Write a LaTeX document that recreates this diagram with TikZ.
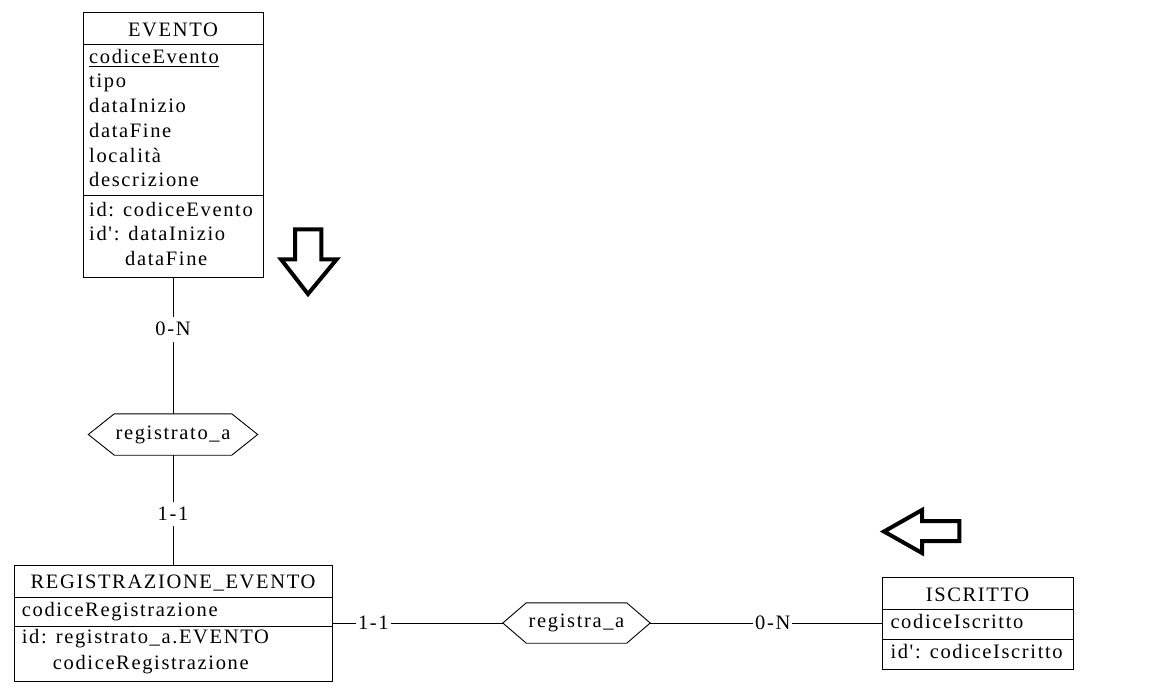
\documentclass[tikz,border=0pt]{standalone}
\usepackage{fontspec}
\setmainfont{Liberation Serif}[LetterSpace=8, Ligatures=TeXOff]
\newcommand\erfont{\fontsize{20.5}{24.5}\selectfont}
\tikzset{
  box/.style={draw, line width=0.9pt, inner sep=0pt},
  sep/.style={line width=0.9pt},
  conn/.style={line width=0.9pt},
  txt/.style={anchor=base west, inner sep=0pt, font=\erfont},
  ttl/.style={anchor=base, inner sep=0pt, font=\erfont},
  rel/.style={inner sep=0pt, font=\erfont},
  hexa/.style={line width=0.9pt},
  lbl/.style={fill=white, inner xsep=2pt, inner ysep=5.5pt, font=\erfont},
  bigarrow/.style={line width=4pt, line join=miter, miter limit=10}
}
\begin{document}
\begin{tikzpicture}[x=1pt,y=-1pt]
\useasboundingbox (0,0) rectangle (1152,693);

% ---------- EVENTO ----------
\node[box, minimum width=180pt, minimum height=265pt] (ev) at (173,144.5) {};
\draw[sep] (ev.west |- 0,44) -- (ev.east |- 0,44);
\draw[sep] (ev.west |- 0,195.7) -- (ev.east |- 0,195.7);
\node[ttl] (evT) at (173,36.7) {EVENTO};
\node[txt] (ev1) at (89,63.3) {codiceEvento};
\draw[line width=0.9pt] ([yshift=-3pt]ev1.base west) -- ([yshift=-3pt]ev1.base east);
\node[txt] (ev2) at (89,88) {tipo};
\node[txt] (ev3) at (89,112.8) {dataInizio};
\node[txt] (ev4) at (89,137.5) {dataFine};
\node[txt] (ev5) at (89,162) {località};
\node[txt] (ev6) at (89,186.5) {descrizione};
\node[txt] (ev7) at (89,216) {id: codiceEvento};
\node[txt] (ev8) at (89,240.6) {id': dataInizio};
\node[txt] (ev9) at (125,265) {dataFine};

% ---------- registrato_a ----------
\node[rel, minimum width=117pt, minimum height=41pt] (r1) at (173,434.5) {registrato\_a};
\coordinate (r1w) at ([xshift=-26pt]r1.west);
\coordinate (r1e) at ([xshift=26pt]r1.east);
\draw[hexa] (r1w) -- (r1.north west) -- (r1.north east) -- (r1e) -- (r1.south east) -- (r1.south west) -- cycle;

% ---------- REGISTRAZIONE_EVENTO ----------
\node[box, minimum width=318pt, minimum height=116pt] (reg) at (173,623) {};
\draw[sep] (reg.west |- 0,597.3) -- (reg.east |- 0,597.3);
\draw[sep] (reg.west |- 0,626) -- (reg.east |- 0,626);
\node[ttl] (regT) at (173,588.7) {REGISTRAZIONE\_EVENTO};
\node[txt] (reg1) at (21.7,616) {codiceRegistrazione};
\node[txt] (reg2) at (21.7,643.3) {id: registrato\_a.EVENTO};
\node[txt] (reg3) at (52.7,669.3) {codiceRegistrazione};

% ---------- registra_a ----------
\node[rel, minimum width=100pt, minimum height=40pt] (r2) at (576.5,623) {registra\_a};
\coordinate (r2w) at ([xshift=-23.5pt]r2.west);
\coordinate (r2e) at ([xshift=23.5pt]r2.east);
\draw[hexa] (r2w) -- (r2.north west) -- (r2.north east) -- (r2e) -- (r2.south east) -- (r2.south west) -- cycle;

% ---------- ISCRITTO ----------
\node[box, minimum width=191pt, minimum height=92pt] (isc) at (977.5,623) {};
\draw[sep] (isc.west |- 0,609.3) -- (isc.east |- 0,609.3);
\draw[sep] (isc.west |- 0,639) -- (isc.east |- 0,639);
\node[ttl] (iscT) at (977.5,601.3) {ISCRITTO};
\node[txt] (isc1) at (890.3,628) {codiceIscritto};
\node[txt] (isc2) at (890.3,658) {id': codiceIscritto};

% ---------- connectors ----------
\draw[conn] (ev.south) -- node[lbl, pos=0.38] (l1) {0-N} (r1.north);
\draw[conn] (r1.south) -- node[lbl, pos=0.536] (l2) {1-1} (reg.north);
\draw[conn] (reg.east) -- node[lbl, pos=0.24] (l3) {1-1} (r2w);
\draw[conn] (r2e) -- node[lbl, pos=0.53] (l4) {0-N} (isc.west);

% ---------- big arrows ----------
\draw[bigarrow] (295,229.3) -- (321.3,229.3) -- (321.3,259.3) -- (336.7,259.3)
   -- (308,294) -- (281,259.3) -- (295,259.3) -- cycle;
\draw[bigarrow] (884,531.5) -- (922,510) -- (922,521) -- (959.3,521)
   -- (959.3,541) -- (922,541) -- (922,553) -- cycle;
\end{tikzpicture}
\end{document}
